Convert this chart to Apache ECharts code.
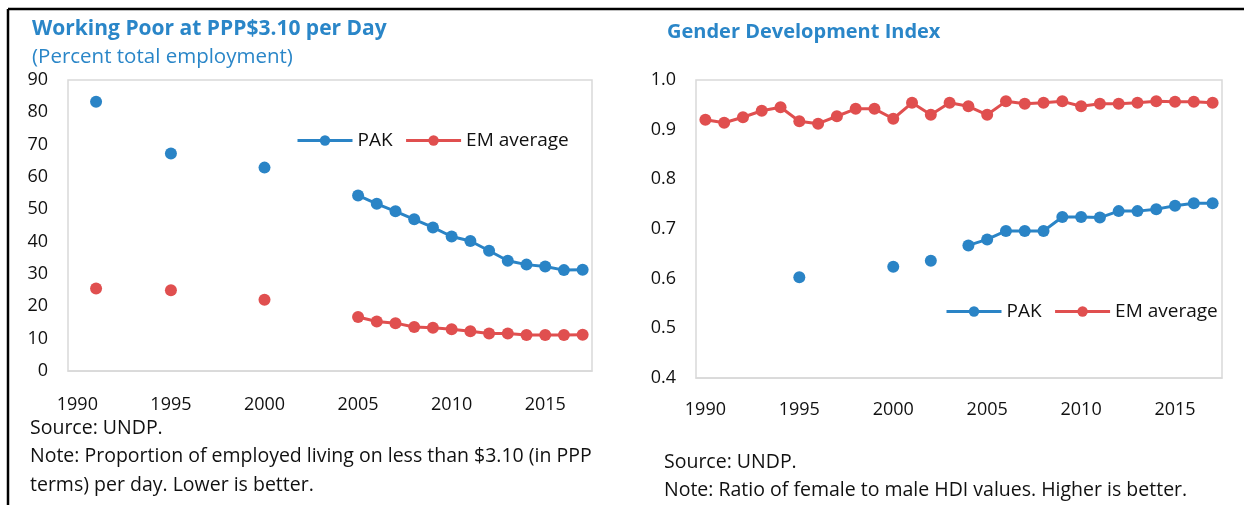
<!DOCTYPE html>
<html>
<head>
<meta charset="utf-8">
<script src="https://cdn.jsdelivr.net/npm/echarts@6/dist/echarts.min.js"></script>
<style>
    html, body { margin: 0; padding: 0; background: #fff; }
    #chart { width: 1244px; height: 505px; }
</style>
</head>
<body>
<div id="chart"></div>
<script>
// years on both x axes
var years = ['1990', '1991', '1992', '1993', '1994', '1995', '1996', '1997', '1998', '1999',
    '2000', '2001', '2002', '2003', '2004', '2005', '2006', '2007', '2008', '2009',
    '2010', '2011', '2012', '2013', '2014', '2015', '2016', '2017'];

// working poor at PPP$3.10 per day, percent of total employment
var pakPoor = [null, 83.3, null, null, null, 67.3, null, null, null, null,
    62.9, null, null, null, null, 54.3, 51.7, 49.4, 46.9, 44.4,
    41.6, 40.2, 37.2, 34.1, 32.9, 32.3, 31.2, 31.3];
var emPoor = [null, 25.5, null, null, null, 25.0, null, null, null, null,
    22.0, null, null, null, null, 16.7, 15.3, 14.8, 13.6, 13.4,
    12.9, 12.3, 11.6, 11.6, 11.1, 11.1, 11.1, 11.2];

// gender development index
var pakGdi = [null, null, null, null, null, 0.603, null, null, null, null,
    0.624, null, 0.636, null, 0.667, 0.679, 0.696, 0.696, 0.696, 0.724,
    0.724, 0.723, 0.736, 0.736, 0.740, 0.747, 0.752, 0.752];
var emGdi = [0.920, 0.914, 0.925, 0.938, 0.945, 0.917, 0.912, 0.927, 0.942, 0.942,
    0.922, 0.954, 0.930, 0.954, 0.947, 0.930, 0.957, 0.952, 0.954, 0.957,
    0.947, 0.952, 0.952, 0.954, 0.957, 0.956, 0.956, 0.954];

var poorTicks = [0, 90, 10];
var gdiTicks = [0.4, 1.0, 0.1];

var blue = '#2a84c6';
var red = '#e04f4f';
var titleBlue = '#2a86c8';
var boxGray = '#d9d9d9';
var font = 'Open Sans';

var chart = echarts.init(document.getElementById('chart'));

// shared x axis settings
function xAxisConfig(gridIndex, margin) {
    return {
        type: 'category',
        gridIndex: gridIndex,
        data: years,
        boundaryGap: true,
        axisLine: { lineStyle: { color: boxGray, width: 1.5 } },
        axisTick: { interval: 0, length: 6, lineStyle: { color: boxGray, width: 1.5 } },
        axisLabel: { interval: 4, margin: margin, color: '#111', fontSize: 18, fontFamily: font },
        splitLine: { show: false }
    };
}

function lineSeries(name, data, color, xi, yi) {
    return {
        name: name,
        type: 'line',
        xAxisIndex: xi,
        yAxisIndex: yi,
        data: data,
        symbol: 'circle',
        symbolSize: 12,
        showAllSymbol: true,
        connectNulls: false,
        itemStyle: { color: color },
        lineStyle: { color: color, width: 3 },
        emphasis: { disabled: true }
    };
}

var legendStyle = {
    orient: 'horizontal',
    itemWidth: 55,
    itemHeight: 13,
    itemGap: 12,
    lineStyle: { width: 3 },
    textStyle: { fontSize: 19, color: '#111', fontFamily: font },
    data: ['PAK', 'EM average']
};

chart.setOption({
    animation: false,
    textStyle: { fontFamily: font },
    title: [
        {
            text: 'Working Poor at PPP$3.10 per Day',
            left: 32, top: 19, padding: 0,
            textStyle: { color: titleBlue, fontSize: 21, fontWeight: 'bold', fontFamily: font }
        },
        {
            text: '(Percent total employment)',
            left: 32, top: 47, padding: 0,
            textStyle: { color: titleBlue, fontSize: 20.5, fontWeight: 'normal', fontFamily: font }
        },
        {
            text: 'Gender Development Index',
            left: 667, top: 22, padding: 0,
            textStyle: { color: titleBlue, fontSize: 20, fontWeight: 'bold', fontFamily: font }
        },
        {
            text: 'Source: UNDP.\nNote: Proportion of employed living on less than $3.10 (in PPP\nterms) per day. Lower is better.',
            left: 30, top: 414, padding: 0,
            textStyle: { color: '#111', fontSize: 19.5, fontWeight: 'normal', lineHeight: 28.5, fontFamily: font }
        },
        {
            text: 'Source: UNDP.\nNote: Ratio of female to male HDI values. Higher is better.',
            left: 664, top: 448, padding: 0,
            textStyle: { color: '#111', fontSize: 19.5, fontWeight: 'normal', lineHeight: 28.5, fontFamily: font }
        }
    ],
    legend: [
        Object.assign({ left: 291, top: 126 }, legendStyle),
        Object.assign({ left: 940, top: 297 }, legendStyle)
    ],
    grid: [
        { left: 68, top: 80, width: 524, height: 291, show: true, borderColor: boxGray, borderWidth: 1.5, backgroundColor: '#fff' },
        { left: 696, top: 80, width: 526, height: 298, show: true, borderColor: boxGray, borderWidth: 1.5, backgroundColor: '#fff' }
    ],
    xAxis: [xAxisConfig(0, 25), xAxisConfig(1, 23)],
    yAxis: [
        {
            type: 'value',
            gridIndex: 0,
            min: poorTicks[0], max: poorTicks[1], interval: poorTicks[2],
            axisLine: { show: false },
            axisTick: { show: false },
            splitLine: { show: false },
            axisLabel: { margin: 20, color: '#111', fontSize: 18, fontFamily: font }
        },
        {
            type: 'value',
            gridIndex: 1,
            min: gdiTicks[0], max: gdiTicks[1], interval: gdiTicks[2],
            axisLine: { show: false },
            axisTick: { show: false },
            splitLine: { show: false },
            axisLabel: {
                margin: 20, color: '#111', fontSize: 18, fontFamily: font,
                formatter: function (v) { return v.toFixed(1); }
            }
        }
    ],
    series: [
        lineSeries('PAK', pakPoor, blue, 0, 0),
        lineSeries('EM average', emPoor, red, 0, 0),
        lineSeries('PAK', pakGdi, blue, 1, 1),
        lineSeries('EM average', emGdi, red, 1, 1)
    ],
    graphic: [
        // black frame, top and left edges only
        { type: 'line', shape: { x1: 8, y1: 9, x2: 1244, y2: 9 }, style: { stroke: '#000', lineWidth: 2.5 } },
        { type: 'line', shape: { x1: 8, y1: 9, x2: 8, y2: 505 }, style: { stroke: '#000', lineWidth: 2.5 } }
    ]
});
</script>
</body>
</html>
